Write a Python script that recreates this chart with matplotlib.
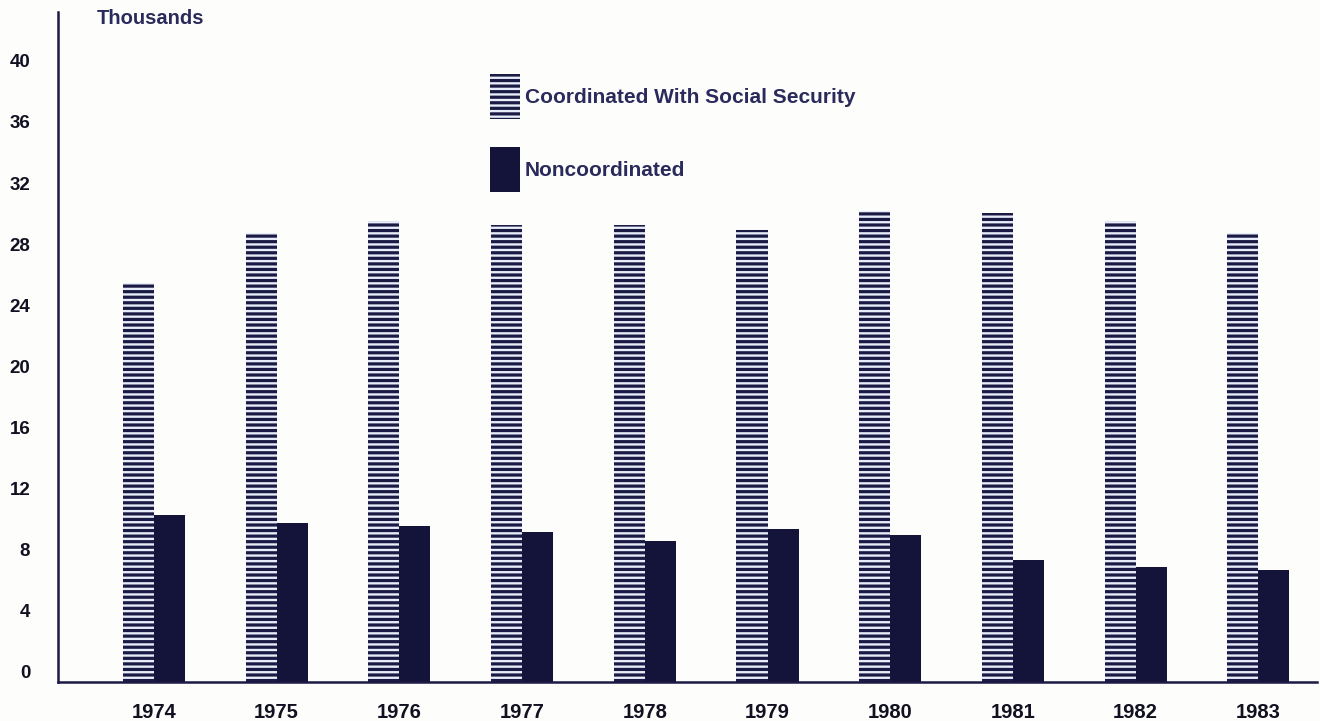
import numpy as np
import matplotlib.pyplot as plt
import matplotlib.transforms as mtransforms

years = ["1974", "1975", "1976", "1977", "1978", "1979", "1980", "1981", "1982", "1983"]
coordinated = [26.1, 29.4, 30.2, 29.9, 29.9, 29.6, 30.8, 30.7, 30.2, 29.4]
noncoordinated = [10.9, 10.4, 10.2, 9.8, 9.2, 10.0, 9.6, 8.0, 7.5, 7.3]
yticks = list(range(0, 41, 4))
labels = ["Coordinated With Social Security", "Noncoordinated"]

navy = "#1b1a45"
solid = "#14143a"
text_navy = "#2a2a5c"

plt.rcParams["font.family"] = ["Liberation Sans", "DejaVu Sans"]
plt.rcParams["font.weight"] = "bold"
plt.rcParams["hatch.linewidth"] = 2.3

W, H = 1320, 721
fig = plt.figure(figsize=(W / 100, H / 100), dpi=100)
fig.patch.set_facecolor("#fdfdfb")
ax = fig.add_axes([58 / W, 39 / H, 1259 / W, 670 / H])
ax.set_facecolor("none")

x = np.arange(len(years))
w = 0.253
b1 = ax.bar(x - w / 2, coordinated, w, facecolor="#e6edf8", edgecolor=navy,
            linewidth=0, hatch="---")
b2 = ax.bar(x + w / 2, noncoordinated, w, color=solid, linewidth=0)

ax.set_xlim(-0.782, 9.478)
ax.set_ylim(0, 43.85)

for s in ["top", "right"]:
    ax.spines[s].set_visible(False)
for s in ["left", "bottom"]:
    ax.spines[s].set_color(navy)
    ax.spines[s].set_linewidth(1.8)

ax.set_xticks(x)
ax.set_xticklabels(years, fontsize=14.5, fontweight="bold", color="#111122")
ax.set_yticks(yticks)
ax.set_yticklabels([str(v) for v in yticks], fontsize=13.5, fontweight="bold",
                   color="#111122")
ax.tick_params(axis="x", length=0, pad=15)
ax.tick_params(axis="y", length=0, pad=20)

# numbers sit a little above their value lines
shift = mtransforms.ScaledTranslation(0, 7.2 / 72, fig.dpi_scale_trans)
for lab in ax.get_yticklabels():
    lab.set_transform(lab.get_transform() + shift)

fig.text(97 / W, 1 - 18 / H, "Thousands", ha="left", va="center",
         fontsize=14.5, fontweight="bold", color=text_navy)

# legend swatches: 30 px wide, 45 px tall
fs = 15
fpx = fs * 100 / 72
hh = (45 / fpx - 0.245) / 0.65
leg = ax.legend([b1, b2], labels, loc="upper left",
                bbox_to_anchor=(490 / W, 1 - 74 / H), bbox_transform=fig.transFigure,
                frameon=False, borderpad=0, borderaxespad=0,
                handlelength=30 / fpx, handleheight=hh,
                handletextpad=5 / fpx, labelspacing=28 / fpx,
                prop={"size": fs, "weight": "bold"})
for t in leg.get_texts():
    t.set_color(text_navy)

fig.savefig("out.png", dpi=100, facecolor=fig.get_facecolor())
